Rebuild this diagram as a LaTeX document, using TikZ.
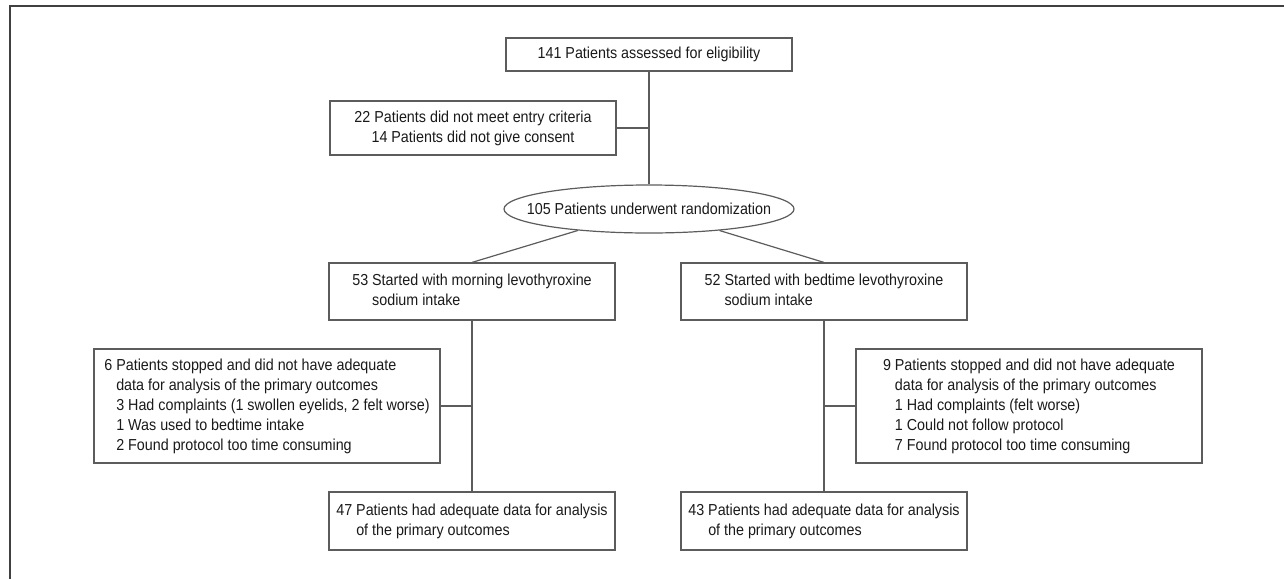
\documentclass[tikz,border=0pt]{standalone}
\usepackage{fontspec}
\setmainfont[FakeStretch=0.9]{Liberation Sans}
\usetikzlibrary{shapes.geometric}
\definecolor{linegray}{HTML}{5C5C5C}
\definecolor{inkgray}{HTML}{1A1A1A}
\tikzset{
	box/.style={draw=linegray, line width=1.2pt, inner sep=2pt, text=inkgray,
		font=\fontsize{15.9}{20}\selectfont},
	conn/.style={draw=linegray, line width=1.2pt},
}
\begin{document}
\begin{tikzpicture}[x=1pt, y=-1pt]
		\useasboundingbox (0, 0) rectangle (1284, 579);
		\draw [draw=black!75, line width=2pt] (1284, 5.5) -- (10, 5.5) -- (10, 579);
		
		\draw node[box, minimum width=286, minimum height=33] at (649, 54.5) (assess) {141 Patients assessed for eligibility};
		\draw node[box, minimum width=286, minimum height=54, align=center] at (473, 128) (excl) {22 Patients did not meet entry criteria\\ 14 Patients did not give consent};
		\draw node[box, ellipse, minimum width=290, minimum height=48, inner xsep=-20pt, inner ysep=0pt] at (649, 209) (rand) {105 Patients underwent randomization};
		
		\draw node[box, minimum width=286, minimum height=57] at (472, 291.5) (morning) {\begin{tabular}{@{}l@{\ }l@{}}53 & Started with morning levothyroxine\\ & sodium intake\end{tabular}};
		\draw node[box, minimum width=286, minimum height=57] at (824, 291.5) (bedtime) {\begin{tabular}{@{}l@{\ }l@{}}52 & Started with bedtime levothyroxine\\ & sodium intake\end{tabular}};
		
		\draw node[box, minimum width=346, minimum height=114] at (267, 406) (stopmorning) {\begin{tabular}{@{}l@{\ }l@{}}6 & Patients stopped and did not have adequate\\ & data for analysis of the primary outcomes\\ & 3 Had complaints (1 swollen eyelids, 2 felt worse)\\ & 1 Was used to bedtime intake\\ & 2 Found protocol too time consuming\end{tabular}};
		\draw node[box, minimum width=346, minimum height=114] at (1029, 406) (stopbedtime) {\begin{tabular}{@{}l@{\ }l@{}}9 & Patients stopped and did not have adequate\\ & data for analysis of the primary outcomes\\ & 1 Had complaints (felt worse)\\ & 1 Could not follow protocol\\ & 7 Found protocol too time consuming\end{tabular}};
		
		\draw node[box, minimum width=286, minimum height=58] at (472, 521) (endmorning) {\begin{tabular}{@{}l@{\ }l@{}}47 & Patients had adequate data for analysis\\ & of the primary outcomes\end{tabular}};
		\draw node[box, minimum width=286, minimum height=58] at (824, 521) (endbedtime) {\begin{tabular}{@{}l@{\ }l@{}}43 & Patients had adequate data for analysis\\ & of the primary outcomes\end{tabular}};
		
		\draw [conn] (assess) -- (rand);
		\draw [conn] (excl.east) -- (excl.east -| assess.south);
		\draw [conn] (rand) -- (morning.north);
		\draw [conn] (rand) -- (bedtime.north);
		\draw [conn] (morning) -- (endmorning);
		\draw [conn] (bedtime) -- (endbedtime);
		\draw [conn] (stopmorning.east) -- (stopmorning.east -| morning.south);
		\draw [conn] (stopbedtime.west) -- (stopbedtime.west -| bedtime.south);
	\end{tikzpicture}
\end{document}
